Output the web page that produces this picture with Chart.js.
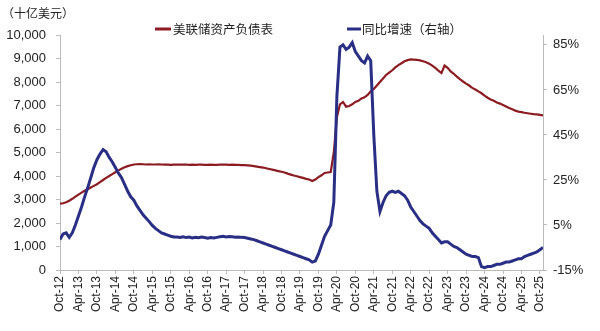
<!DOCTYPE html>
<html>
<head>
<meta charset="utf-8">
<script src="https://cdn.jsdelivr.net/npm/chart.js@4"></script>
<style>
  html, body { margin: 0; padding: 0; background: #fff; }
</style>
</head>
<body>
<canvas id="chart" width="600" height="331"></canvas>
<script>
// 月度数据，2012年10月 ~ 2025年11月
const xTickLabels = ['Oct-12', 'Apr-13', 'Oct-13', 'Apr-14', 'Oct-14', 'Apr-15', 'Oct-15', 'Apr-16', 'Oct-16',
  'Apr-17', 'Oct-17', 'Apr-18', 'Oct-18', 'Apr-19', 'Oct-19', 'Apr-20', 'Oct-20', 'Apr-21', 'Oct-21',
  'Apr-22', 'Oct-22', 'Apr-23', 'Oct-23', 'Apr-24', 'Oct-24', 'Apr-25', 'Oct-25'];

// 美联储资产负债表（十亿美元）
const fedAssets = [
  2820, 2840, 2880,
  2950, 3030, 3120, 3210, 3290, 3370, 3440, 3510, 3580, 3650, 3740, 3830,
  3920, 4000, 4080, 4160, 4240, 4310, 4370, 4420, 4460, 4490, 4500, 4510,
  4500, 4490, 4500, 4490, 4490, 4500, 4490, 4480, 4480, 4470, 4480, 4480,
  4480, 4480, 4490, 4470, 4480, 4470, 4480, 4480, 4470, 4470, 4480, 4470,
  4470, 4480, 4480, 4480, 4470, 4480, 4470, 4470, 4460, 4460, 4450, 4440,
  4420, 4400, 4380, 4360, 4330, 4300, 4270, 4240, 4210, 4180, 4150, 4100,
  4060, 4020, 3990, 3950, 3920, 3880, 3850, 3790, 3850, 3950, 4030, 4130,
  4150, 4170, 5000, 6500, 7050, 7150, 6950, 6980, 7050, 7150, 7200, 7300,
  7350, 7450, 7600, 7700, 7850, 8000, 8150, 8300, 8400, 8500, 8620, 8720,
  8800, 8880, 8930, 8960, 8950, 8940, 8920, 8880, 8840, 8780, 8700, 8600,
  8480, 8380, 8700, 8600, 8450, 8350, 8230, 8120, 8020, 7930, 7850, 7750,
  7680, 7600, 7520, 7420, 7330, 7260, 7200, 7130, 7080, 7020, 6960, 6890,
  6840, 6780, 6740, 6720, 6690, 6670, 6650, 6630, 6620, 6600, 6580
];

// 同比增速（%，右轴）
const yoyGrowth = [
  -1.5, 1.0, 1.5,
  -0.5, 1.5, 5, 9, 13, 17.5, 21.5, 26, 30.5, 34, 36.5, 38.5,
  37.5, 35, 33, 30.5, 28, 26, 23, 20, 17.5, 16, 13.5, 11.5,
  9.5, 8, 6.5, 4.8, 3.5, 2.5, 1.5, 1, 0.5, 0, -0.3, -0.3,
  -0.5, -0.2, -0.6, -0.4, -0.8, -0.5, -0.7, -0.4, -0.6, -0.9, -0.6, -0.8,
  -0.5, -0.2, 0, -0.3, -0.1, -0.2, -0.4, -0.3, -0.5, -0.6, -0.9, -1.2,
  -1.5, -2, -2.5, -3, -3.5, -4, -4.5, -5, -5.5, -6, -6.5, -7,
  -7.5, -8, -8.5, -9, -9.5, -10, -10.5, -11.5, -11, -8, -4, 0,
  2.5, 5, 15, 62, 84, 85, 83, 84, 86, 82, 80, 78,
  77, 80, 78, 45, 20, 11, 15, 18, 19.5, 20, 19.5, 20,
  19, 18, 16, 13, 11, 9, 7, 5.5, 4.5, 3.5, 1.5, 0,
  -1.5, -3, -2.5, -2.5, -3.5, -4.5, -5, -6, -7, -8, -8.5, -9,
  -9, -9.5, -13.5, -14, -13.5, -13.5, -13, -12.5, -12.5, -12, -11.5, -11.5,
  -11, -10.5, -10, -10, -9, -8.5, -8, -7.5, -7, -6, -5
];

const rightTicks = [-15, 5, 25, 45, 65, 85];

const seriesNames = ['美联储资产负债表', '同比增速（右轴）'];
const unitLabel = '（十亿美元）';
const RED = '#8c1c22';
const BLUE = '#2a2f86';

const tickFont = { family: '"Liberation Sans", Arial, sans-serif', size: 13 };

// 自定义图例和单位
const legendPlugin = {
  id: 'topLegend',
  afterDraw(chart) {
    const ctx = chart.ctx;
    ctx.save();
    ctx.fillStyle = '#222';
    ctx.textBaseline = 'middle';
    ctx.font = '12px "Noto Sans CJK SC"';
    ctx.fillText(unitLabel, 2, 13);

    ctx.font = '12.5px "Noto Sans CJK SC"';
    ctx.lineWidth = 3;
    ctx.strokeStyle = RED;
    ctx.beginPath(); ctx.moveTo(155, 29); ctx.lineTo(171, 29); ctx.stroke();
    ctx.fillText(seriesNames[0], 173, 29);

    ctx.strokeStyle = BLUE;
    ctx.beginPath(); ctx.moveTo(347, 29); ctx.lineTo(361, 29); ctx.stroke();
    ctx.fillText(seriesNames[1], 362, 29);
    ctx.restore();
  }
};

const ctx = document.getElementById('chart').getContext('2d');

new Chart(ctx, {
  type: 'line',
  data: {
    datasets: [
      {
        label: seriesNames[1],
        data: yoyGrowth.map((v, i) => ({ x: i, y: v })),
        yAxisID: 'y1',
        borderColor: BLUE,
        borderWidth: 3,
        pointRadius: 0,
        tension: 0,
        order: 0
      },
      {
        label: seriesNames[0],
        data: fedAssets.map((v, i) => ({ x: i, y: v })),
        yAxisID: 'y',
        borderColor: RED,
        borderWidth: 2.2,
        pointRadius: 0,
        tension: 0,
        order: 1
      }
    ]
  },
  options: {
    responsive: false,
    animation: false,
    layout: { padding: { top: 35, left: 0, right: 0, bottom: 0 } },
    plugins: {
      legend: { display: false },
      tooltip: { enabled: false }
    },
    scales: {
      x: {
        type: 'linear',
        min: 0,
        max: 157,
        afterBuildTicks: s => { s.ticks = xTickLabels.map((_, i) => ({ value: i * 6 })); },
        afterFit: s => { s.height = 61; },
        ticks: {
          autoSkip: false,
          minRotation: 90,
          maxRotation: 90,
          padding: 2,
          color: '#222',
          font: { family: tickFont.family, size: 12 },
          callback: v => xTickLabels[Math.round(v / 6)]
        },
        grid: { drawOnChartArea: false, tickLength: 4, color: '#bbb' },
        border: { color: '#bbb' }
      },
      y: {
        position: 'left',
        min: 0,
        max: 10000,
        afterFit: s => { s.width = 60; },
        ticks: {
          stepSize: 1000,
          padding: 10,
          color: '#222',
          font: tickFont,
          callback: v => v.toLocaleString('en-US')
        },
        grid: { drawOnChartArea: false, tickLength: 4, color: '#bbb' },
        border: { color: '#bbb' }
      },
      y1: {
        position: 'right',
        min: -15,
        max: 89.4,
        afterBuildTicks: s => { s.ticks = rightTicks.map(v => ({ value: v })); },
        afterFit: s => { s.width = 57; },
        ticks: {
          padding: 6,
          color: '#222',
          font: tickFont,
          callback: v => v + '%'
        },
        grid: { drawOnChartArea: false, tickLength: 4, color: '#bbb' },
        border: { color: '#bbb' }
      }
    }
  },
  plugins: [legendPlugin]
});
</script>
</body>
</html>
